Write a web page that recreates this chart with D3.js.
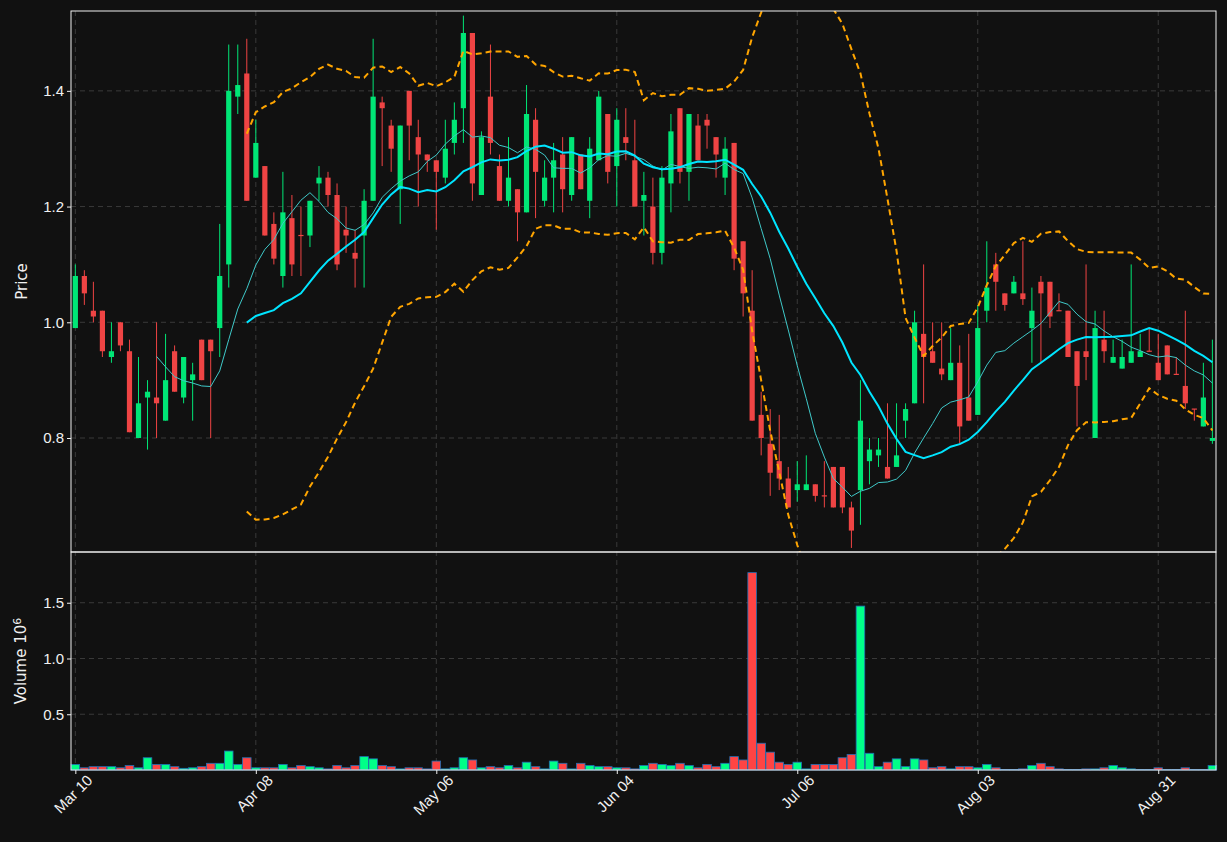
<!DOCTYPE html>
<html>
<head>
<meta charset="utf-8">
<script src="https://cdn.jsdelivr.net/npm/d3@7"></script>
<style>
  body { margin: 0; background: #111111; }
  svg { display: block; font-family: "DejaVu Sans", sans-serif; }
</style>
</head>
<body>
<svg id="chart" width="1227" height="842"></svg>
<script>
// OHLC per trading day
var opens  = [0.99,1.08,1.02,1.02,0.94,1.00,0.95,0.80,0.87,0.87,0.83,0.95,0.87,0.90,0.97,0.97,0.99,1.10,1.39,1.43,
              1.25,1.27,1.17,1.08,1.18,1.151,1.15,1.24,1.25,1.22,1.16,1.12,1.15,1.21,1.38,1.34,1.23,1.40,1.32,1.29,
              1.28,1.25,1.31,1.37,1.50,1.22,1.39,1.27,1.21,1.23,1.19,1.35,1.21,1.25,1.29,1.22,1.29,1.21,1.28,1.36,
              1.27,1.32,1.28,1.21,1.20,1.12,1.24,1.37,1.26,1.34,1.35,1.32,1.25,1.31,1.14,1.02,0.84,0.79,0.76,0.73,
              0.71,0.71,0.72,0.701,0.75,0.75,0.68,0.71,0.76,0.77,0.75,0.75,0.83,0.86,0.98,0.95,0.92,0.90,0.93,0.87,
              0.84,1.02,1.10,1.05,1.05,1.05,0.99,1.07,1.07,1.021,1.02,0.95,0.95,0.80,0.97,0.93,0.92,0.93,0.94,0.951,
              0.93,0.96,0.911,0.89,0.851,0.82,0.795];
var highs  = [1.10,1.09,1.07,1.02,1.00,1.00,0.97,0.94,0.90,1.00,0.98,0.96,0.94,0.93,0.97,0.97,1.17,1.48,1.48,1.49,
              1.35,1.27,1.19,1.26,1.22,1.20,1.21,1.27,1.26,1.24,1.20,1.16,1.23,1.49,1.39,1.35,1.34,1.40,1.35,1.29,
              1.28,1.35,1.38,1.53,1.50,1.33,1.48,1.29,1.32,1.23,1.41,1.37,1.28,1.31,1.32,1.32,1.29,1.32,1.40,1.36,
              1.37,1.37,1.35,1.26,1.25,1.27,1.36,1.37,1.36,1.36,1.36,1.32,1.32,1.31,1.14,1.09,0.88,0.85,0.84,0.75,
              0.76,0.77,0.72,0.76,0.75,0.75,0.69,0.90,0.80,0.80,0.86,0.86,0.86,1.02,1.10,1.00,1.00,0.99,0.96,0.98,
              1.03,1.14,1.12,1.05,1.08,1.14,1.06,1.08,1.07,1.05,1.02,0.95,1.10,1.02,1.02,0.97,0.97,1.10,0.98,0.99,
              0.98,0.96,0.94,1.02,0.85,0.93,0.97];
var lows   = [0.99,1.03,1.00,0.94,0.93,0.95,0.81,0.80,0.78,0.80,0.83,0.88,0.86,0.83,0.90,0.80,0.94,1.06,1.36,1.21,
              1.25,1.15,1.10,1.06,1.08,1.08,1.13,1.21,1.20,1.09,1.12,1.06,1.06,1.21,1.27,1.26,1.17,1.28,1.20,1.26,
              1.16,1.24,1.29,1.31,1.21,1.22,1.29,1.21,1.20,1.14,1.19,1.18,1.20,1.19,1.19,1.21,1.23,1.18,1.28,1.24,
              1.20,1.28,1.20,1.15,1.10,1.10,1.19,1.24,1.21,1.28,1.30,1.25,1.22,1.09,1.01,0.83,0.77,0.70,0.71,0.68,
              0.69,0.71,0.69,0.68,0.68,0.67,0.61,0.65,0.72,0.75,0.73,0.75,0.80,0.86,0.86,0.93,0.90,0.90,0.79,0.83,
              0.84,1.00,1.02,1.02,1.05,1.03,0.93,0.93,0.99,1.02,0.94,0.82,0.90,0.80,0.93,0.93,0.92,0.93,0.94,0.95,
              0.90,0.91,0.91,0.85,0.83,0.82,0.79];
var closes = [1.08,1.05,1.01,0.95,0.95,0.96,0.81,0.86,0.88,0.86,0.90,0.88,0.94,0.91,0.90,0.95,1.08,1.40,1.41,1.21,
              1.31,1.15,1.11,1.19,1.10,1.15,1.21,1.25,1.22,1.10,1.15,1.11,1.21,1.39,1.37,1.30,1.34,1.34,1.29,1.28,
              1.26,1.30,1.35,1.50,1.24,1.32,1.31,1.21,1.25,1.19,1.36,1.26,1.25,1.28,1.23,1.32,1.23,1.30,1.39,1.26,
              1.35,1.31,1.20,1.22,1.12,1.25,1.33,1.26,1.36,1.28,1.34,1.29,1.30,1.11,1.05,0.83,0.80,0.74,0.73,0.68,
              0.72,0.72,0.70,0.70,0.68,0.68,0.64,0.83,0.78,0.78,0.73,0.77,0.85,1.00,0.94,0.93,0.91,0.93,0.82,0.83,
              0.99,1.06,1.07,1.03,1.07,1.04,1.02,1.05,1.01,1.02,0.94,0.89,0.94,0.99,0.95,0.94,0.94,0.95,0.95,0.95,
              0.90,0.91,0.91,0.86,0.85,0.87,0.80];
// volume in millions
var volumes = [0.05,0.02,0.03,0.03,0.03,0.02,0.04,0.02,0.11,0.05,0.05,0.03,0.015,0.02,0.03,0.06,0.06,0.17,0.05,0.11,
               0.02,0.02,0.02,0.05,0.02,0.04,0.03,0.02,0.01,0.04,0.02,0.04,0.12,0.10,0.04,0.03,0.01,0.02,0.02,0.01,
               0.08,0.01,0.02,0.11,0.09,0.02,0.03,0.02,0.04,0.02,0.07,0.03,0.01,0.08,0.06,0.01,0.06,0.04,0.03,0.03,
               0.02,0.02,0.01,0.04,0.06,0.05,0.04,0.06,0.04,0.02,0.05,0.03,0.06,0.12,0.09,1.77,0.24,0.16,0.07,0.05,
               0.07,0.01,0.05,0.05,0.05,0.11,0.14,1.47,0.15,0.03,0.07,0.10,0.03,0.10,0.09,0.02,0.03,0.01,0.03,0.03,
               0.02,0.05,0.02,0.005,0.005,0.01,0.04,0.06,0.03,0.01,0.005,0.005,0.01,0.01,0.02,0.04,0.02,0.01,0.005,0.005,
               0.02,0.005,0.005,0.02,0.005,0.005,0.04];
var tickIndex = [0, 20, 40, 60, 80, 100, 120];
var tickLabels = ["Mar 10", "Apr 08", "May 06", "Jun 04", "Jul 06", "Aug 03", "Aug 31"];
var priceTicks = [0.8, 1.0, 1.2, 1.4];
var volumeTicks = [0.5, 1.0, 1.5];

var up = "#00e676", down = "#ef4444";
var svg = d3.select("#chart");
var left = 71, right = 1216;
var main = {top: 11, bottom: 552}, vol = {top: 552, bottom: 770};
var n = closes.length;

var x = d3.scaleLinear().domain([-0.48, 126.4]).range([left, right]);
var y = d3.scaleLinear().domain([0.603, 1.538]).range([main.bottom, main.top]);
var yv = d3.scaleLinear().domain([0, 1.955]).range([vol.bottom, vol.top]);

// rolling indicators from the closes
function sma(p) {
  return closes.map(function(c, i) {
    return i < p - 1 ? null : d3.mean(closes.slice(i - p + 1, i + 1));
  });
}
var ma10 = sma(10), ma20 = sma(20);
var bbUp = [], bbLo = [];
closes.forEach(function(c, i) {
  if (i < 19) { bbUp.push(null); bbLo.push(null); return; }
  var w = closes.slice(i - 19, i + 1), m = d3.mean(w);
  var sd = Math.sqrt(d3.mean(w, function(v) { return (v - m) * (v - m); }));
  bbUp.push(m + 2 * sd); bbLo.push(m - 2 * sd);
});

svg.append("rect").attr("width", 1227).attr("height", 842).attr("fill", "#111111");
var defs = svg.append("defs");
defs.append("clipPath").attr("id", "clipMain").append("rect")
  .attr("x", left).attr("y", main.top).attr("width", right - left).attr("height", main.bottom - main.top);

// grids
var grid = svg.append("g").attr("stroke", "#3a3a3a").attr("stroke-dasharray", "5,4").attr("stroke-width", 1);
tickIndex.forEach(function(t) {
  grid.append("line").attr("x1", x(t)).attr("x2", x(t)).attr("y1", main.top).attr("y2", vol.bottom);
});
priceTicks.forEach(function(t) {
  grid.append("line").attr("x1", left).attr("x2", right).attr("y1", y(t)).attr("y2", y(t));
});
volumeTicks.forEach(function(t) {
  grid.append("line").attr("x1", left).attr("x2", right).attr("y1", yv(t)).attr("y2", yv(t));
});

var plot = svg.append("g").attr("clip-path", "url(#clipMain)");
var idx = d3.range(n);

// candles
plot.selectAll(".wick").data(idx).join("line")
  .attr("x1", function(i) { return x(i); }).attr("x2", function(i) { return x(i); })
  .attr("y1", function(i) { return y(highs[i]); }).attr("y2", function(i) { return y(lows[i]); })
  .attr("stroke", function(i) { return closes[i] >= opens[i] ? up : down; }).attr("stroke-width", 1);
plot.selectAll(".body").data(idx).join("rect")
  .attr("x", function(i) { return x(i) - 2.6; }).attr("width", 5.2)
  .attr("y", function(i) { return y(Math.max(opens[i], closes[i])); })
  .attr("height", function(i) { return Math.max(1.2, Math.abs(y(opens[i]) - y(closes[i]))); })
  .attr("fill", function(i) { return closes[i] >= opens[i] ? up : down; });

function drawLine(vals, color, width, dash) {
  var line = d3.line().defined(function(d) { return d != null; })
    .x(function(d, i) { return x(i); }).y(function(d) { return y(d); });
  plot.append("path").attr("d", line(vals)).attr("fill", "none")
    .attr("stroke", color).attr("stroke-width", width)
    .attr("stroke-dasharray", dash || null);
}
drawLine(ma10, "#3fc9c9", 1, null);
drawLine(ma20, "#00e5ff", 2, null);
drawLine(bbUp, "#ffa500", 2, "6,4");
drawLine(bbLo, "#ffa500", 2, "6,4");

// volume
svg.append("g").selectAll("rect").data(idx).join("rect")
  .attr("x", function(i) { return x(i) - 4.3; }).attr("width", 8.6)
  .attr("y", function(i) { return yv(volumes[i]); })
  .attr("height", function(i) { return yv(0) - yv(volumes[i]); })
  .attr("fill", function(i) { return closes[i] >= opens[i] ? "#00ff88" : "#ff4444"; })
  .attr("stroke", "#1f6fb4").attr("stroke-width", 0.8);

// frames
svg.append("rect").attr("x", left).attr("y", main.top).attr("width", right - left)
  .attr("height", main.bottom - main.top).attr("fill", "none").attr("stroke", "#f0f0f0");
svg.append("rect").attr("x", left).attr("y", vol.top).attr("width", right - left)
  .attr("height", vol.bottom - vol.top).attr("fill", "none").attr("stroke", "#f0f0f0");

// axes
function styleAxis(g) {
  g.select(".domain").remove();
  g.selectAll("line").attr("stroke", "#f0f0f0");
  g.selectAll("text").attr("fill", "#f0f0f0").style("font-size", "15px");
}
svg.append("g").attr("transform", "translate(" + left + ",0)")
  .call(d3.axisLeft(y).tickValues(priceTicks).tickFormat(d3.format(".1f")).tickSize(4)).call(styleAxis);
svg.append("g").attr("transform", "translate(" + left + ",0)")
  .call(d3.axisLeft(yv).tickValues(volumeTicks).tickFormat(d3.format(".1f")).tickSize(4)).call(styleAxis);
var xa = svg.append("g").attr("transform", "translate(0," + vol.bottom + ")")
  .call(d3.axisBottom(x).tickValues(tickIndex).tickFormat(function(d, i) { return tickLabels[i]; }).tickSize(4))
  .call(styleAxis);
xa.selectAll("text").attr("text-anchor", "end").attr("dx", "0.3em").attr("dy", "0.9em")
  .attr("transform", "rotate(-45)");

svg.append("text").attr("transform", "translate(27," + ((main.top + main.bottom) / 2) + ") rotate(-90)")
  .attr("text-anchor", "middle").attr("fill", "#f0f0f0").style("font-size", "15px").text("Price");
var vl = svg.append("text").attr("transform", "translate(26," + ((vol.top + vol.bottom) / 2) + ") rotate(-90)")
  .attr("text-anchor", "middle").attr("fill", "#f0f0f0").style("font-size", "15px");
vl.append("tspan").text("Volume  10");
vl.append("tspan").attr("dy", "-0.5em").style("font-size", "11px").text("6");
</script>
</body>
</html>
